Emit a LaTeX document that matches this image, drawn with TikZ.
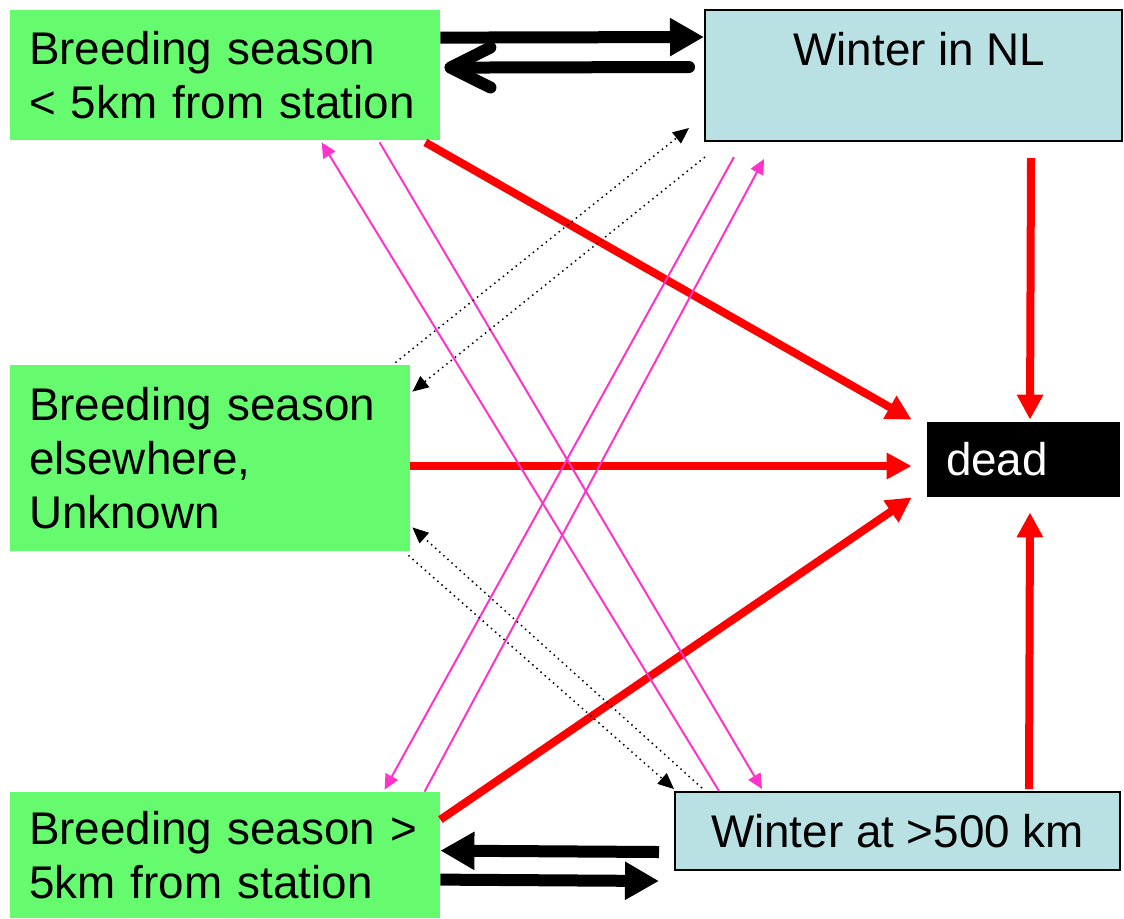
\documentclass[tikz,border=0pt]{standalone}
\usepackage{fontspec}
\setmainfont{Liberation Sans}
\usepackage{tikz}
\usetikzlibrary{calc,arrows.meta}
\definecolor{boxgreen}{RGB}{102,250,110}
\definecolor{boxblue}{RGB}{185,224,227}
\definecolor{linkpink}{RGB}{255,51,204}

\begin{document}
\begin{tikzpicture}[x=0.5pt,y=-0.5pt,
   font=\fontsize{22.9pt}{27pt}\selectfont,
   breed/.style={rectangle,fill=boxgreen,align=left,inner xsep=9.5pt,
    inner ysep=0pt},
   winter/.style={rectangle,draw,line width=1pt,fill=boxblue,align=center},
   deadbox/.style={rectangle,fill=black,text=white,align=left,
    inner xsep=9.5pt,text width=77.5pt,minimum height=37.5pt},
   migr/.style={line width=6pt,-{Triangle[length=17pt,width=18pt]}},
   migrback/.style={line width=6pt,line cap=round,
    -{Straight Barb[length=20pt,width=20pt,round]}},
   todead/.style={red,line width=4pt,-{Triangle[length=12.5pt,width=12.5pt]}},
   pinkmove/.style={linkpink,line width=1pt,-{Triangle[length=7.5pt,width=7pt]}},
   dotmove/.style={dotted,line width=0.75pt,-{Triangle[length=8pt,width=7pt]}}
    ]
  \useasboundingbox (0,0) rectangle (1124,918);

  % -- boxes
  \node[breed,text width=196pt,minimum height=65pt] at (225,75) (b1)
    {Breeding season\\< 5km from station};
  \node[breed,text width=181pt,minimum height=93pt] at (210,458) (b2)
    {Breeding season\\elsewhere,\\Unknown};
  \node[breed,text width=196pt,minimum height=63pt] at (225,855) (b3)
    {\mbox{Breeding season >}\\5km from station};
  \node[winter,minimum width=208.5pt,minimum height=65.5pt] at (913.5,75.5) (w1)
    {\hspace*{6pt}Winter in NL\\\mbox{}};
  \node[winter,minimum width=222.5pt,minimum height=39pt] at (897.5,831) (w2)
    {Winter at >500 km};
  \node[deadbox] at (1023.5,459.5) (dead) {dead};

  % -- black arrows
    \draw[migr] ($(b1.north east)+(0,28)$) -- ($(w1.north west)+(0,28)$);
    \draw[migrback] ($(w1.north west)+(-15,58)$) -- ($(b1.north east)+(4,58)$);
    \draw[migr] ($(w2.south west)+(-15,-19)$) -- ($(b3.north east)+(0,59)$);
    \draw[migr] ($(b3.north east)+(0,88)$) -- ($(w2.south west)+(-15,10)$);

  % -- red arrows
    \draw[todead] ($(b1.south east)+(-15,2)$) -- ($(dead.north west)+(-15,-2)$);
    \draw[todead] ($(b2.east)+(0,8)$) -- ($(dead.west)+(-15,6.5)$);
    \draw[todead] ($(b3.north east)+(0,28)$) -- ($(dead.south west)+(-15,0)$);
    \draw[todead] ($(w1.south east)+(-92,16)$) -- ($(dead.north)+(6.5,-2)$);
    \draw[todead] ($(w2.north west)+(355,-2)$) -- ($(dead.south)+(6.5,15)$);

  % -- pink arrows
    \draw[pinkmove] ($(w2.north west)+(45,0)$) -- ($(b1.south west)+(312,2)$);
    \draw[pinkmove] ($(b1.south west)+(370,2)$) -- ($(w2.north west)+(88,-2)$);
    \draw[pinkmove] ($(b3.north west)+(415,0)$) -- ($(w1.south west)+(60,17)$);
    \draw[pinkmove] ($(w1.south west)+(30,15)$) -- ($(b3.north west)+(375,-2)$);

  % -- dotted arrows
    \draw[dotmove] ($(b2.north east)+(-15,-2)$) -- ($(w1.south west)+(-15,-14)$);
    \draw[dotmove] ($(w1.south west)+(1,15)$) -- ($(b2.north east)+(2,27)$);
    \draw[dotmove] ($(w2.north west)+(28,-3)$) -- ($(b2.south east)+(2,-24)$);
    \draw[dotmove] ($(b2.south east)+(-2,4)$) -- ($(w2.north west)+(0,-2)$);

\end{tikzpicture}
\end{document}
